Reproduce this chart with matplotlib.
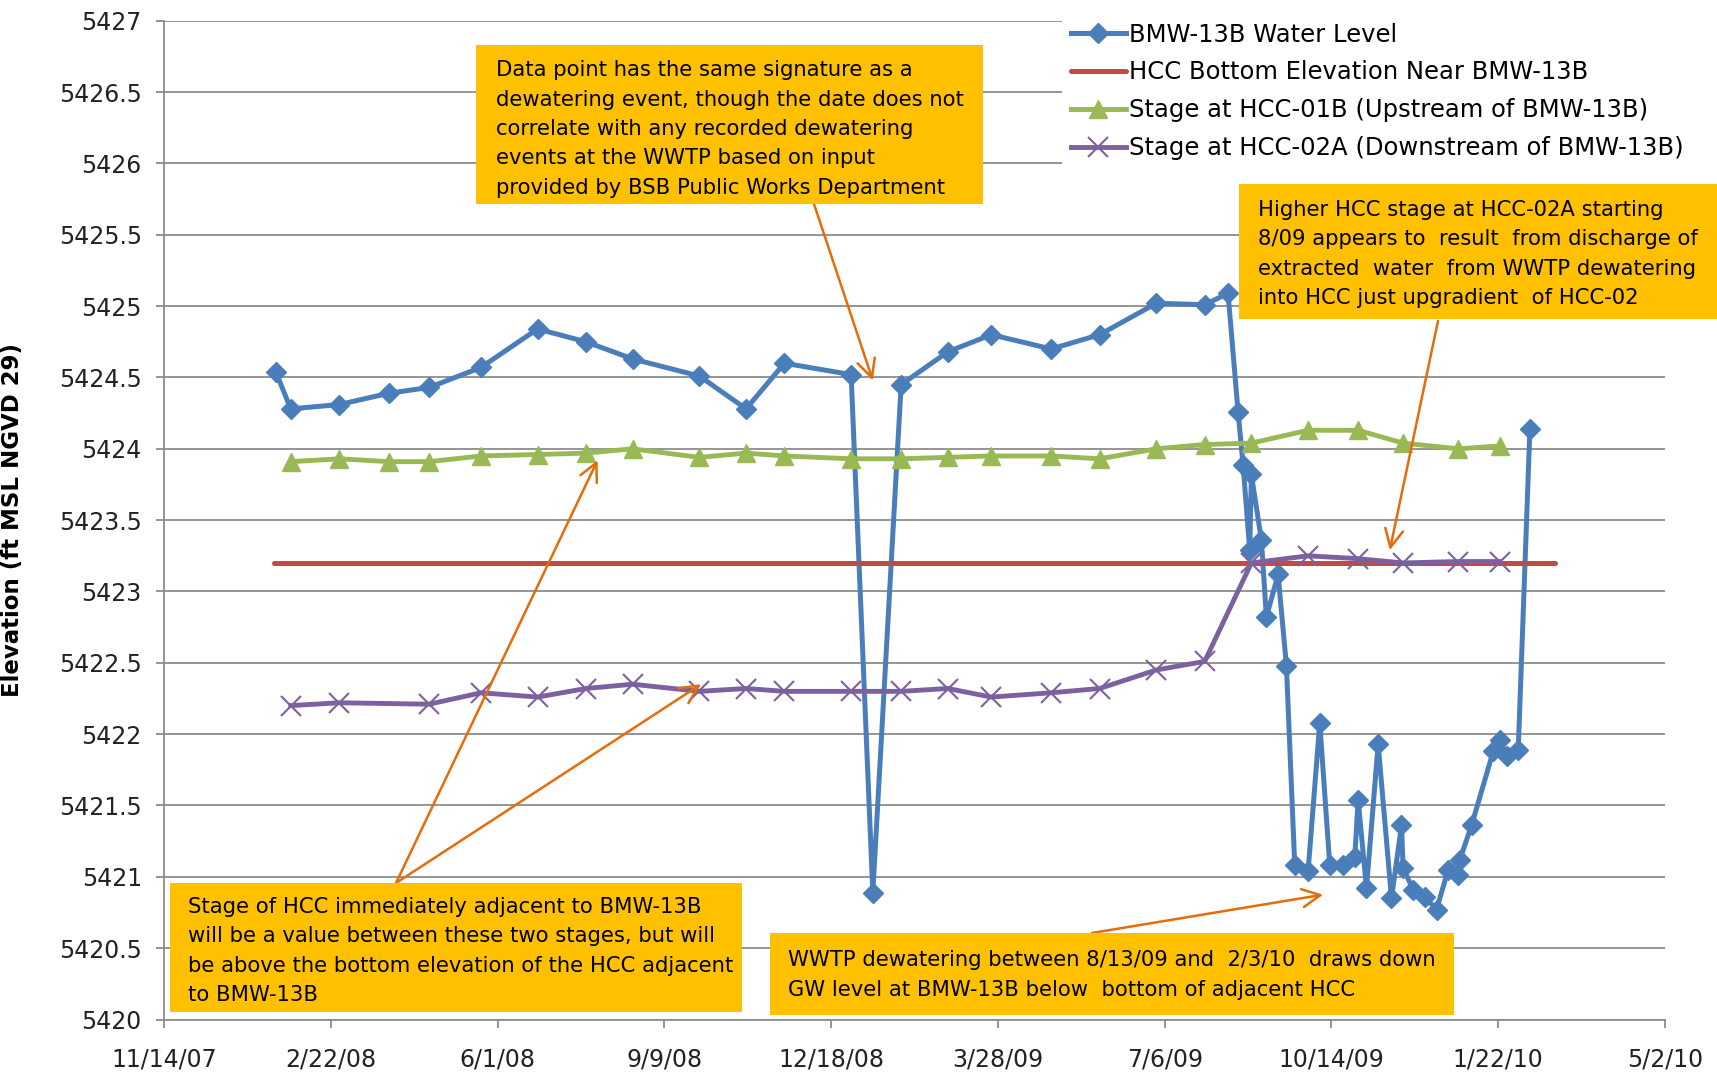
import numpy as np
import pandas as pd
import matplotlib
matplotlib.use('Agg')
import matplotlib.pyplot as plt
import matplotlib.dates as mdates
from matplotlib.patches import Rectangle
from matplotlib.ticker import FuncFormatter

# BMW-13B water level
bmw_dates = ['2008-01-20', '2008-01-29', '2008-02-27', '2008-03-28', '2008-04-21',
             '2008-05-22', '2008-06-25', '2008-07-24', '2008-08-21', '2008-09-30',
             '2008-10-28', '2008-11-20', '2008-12-30', '2009-01-12', '2009-01-29',
             '2009-02-26', '2009-03-24', '2009-04-29', '2009-05-28', '2009-07-01',
             '2009-07-30', '2009-08-13', '2009-08-19', '2009-08-22', '2009-08-26',
             '2009-08-27', '2009-09-02', '2009-09-05', '2009-09-12', '2009-09-17',
             '2009-09-22', '2009-09-30', '2009-10-07', '2009-10-13', '2009-10-21',
             '2009-10-28', '2009-10-30', '2009-11-04', '2009-11-11', '2009-11-19',
             '2009-11-25', '2009-11-26', '2009-12-02', '2009-12-09', '2009-12-16',
             '2009-12-23', '2009-12-29', '2009-12-30', '2010-01-06', '2010-01-19',
             '2010-01-23', '2010-01-27', '2010-02-03', '2010-02-10']
bmw_level = [5424.54, 5424.28, 5424.31, 5424.39, 5424.43,
             5424.57, 5424.84, 5424.75, 5424.63, 5424.51,
             5424.28, 5424.60, 5424.52, 5420.89, 5424.45,
             5424.68, 5424.80, 5424.70, 5424.80, 5425.02,
             5425.01, 5425.09, 5424.26, 5423.89, 5423.29,
             5423.82, 5423.36, 5422.82, 5423.12, 5422.48,
             5421.08, 5421.04, 5422.08, 5421.08, 5421.08,
             5421.14, 5421.54, 5420.92, 5421.93, 5420.85,
             5421.36, 5421.06, 5420.91, 5420.86, 5420.77,
             5421.05, 5421.01, 5421.12, 5421.36, 5421.88,
             5421.96, 5421.85, 5421.89, 5424.14]

# HCC bottom elevation
hcc_dates = ['2008-01-19', '2010-02-25']
hcc_bottom = [5423.2, 5423.2]

# Stage at HCC-01B (upstream)
up_dates = ['2008-01-29', '2008-02-27', '2008-03-28', '2008-04-21', '2008-05-22',
            '2008-06-25', '2008-07-24', '2008-08-21', '2008-09-30', '2008-10-28',
            '2008-11-20', '2008-12-30', '2009-01-29', '2009-02-26', '2009-03-24',
            '2009-04-29', '2009-05-28', '2009-07-01', '2009-07-30', '2009-08-27',
            '2009-09-30', '2009-10-30', '2009-11-26', '2009-12-29', '2010-01-23']
up_stage = [5423.91, 5423.93, 5423.91, 5423.91, 5423.95,
            5423.96, 5423.97, 5424.00, 5423.94, 5423.97,
            5423.95, 5423.93, 5423.93, 5423.94, 5423.95,
            5423.95, 5423.93, 5424.00, 5424.03, 5424.04,
            5424.13, 5424.13, 5424.04, 5424.00, 5424.02]

# Stage at HCC-02A (downstream)
dn_dates = ['2008-01-29', '2008-02-27', '2008-04-21', '2008-05-22', '2008-06-25',
            '2008-07-24', '2008-08-21', '2008-09-30', '2008-10-28', '2008-11-20',
            '2008-12-30', '2009-01-29', '2009-02-26', '2009-03-24', '2009-04-29',
            '2009-05-28', '2009-07-01', '2009-07-30', '2009-08-27', '2009-09-30',
            '2009-10-30', '2009-11-26', '2009-12-29', '2010-01-23']
dn_stage = [5422.20, 5422.22, 5422.21, 5422.29, 5422.26,
            5422.32, 5422.35, 5422.30, 5422.32, 5422.30,
            5422.30, 5422.30, 5422.32, 5422.26, 5422.29,
            5422.32, 5422.45, 5422.51, 5423.20, 5423.25,
            5423.23, 5423.20, 5423.21, 5423.21]

labels = ['BMW-13B Water Level', 'HCC Bottom Elevation Near BMW-13B',
          'Stage at HCC-01B (Upstream of BMW-13B)',
          'Stage at HCC-02A (Downstream of BMW-13B)']

notes = [
    'Data point has the same signature as a\ndewatering event, though the date does not\n'
    'correlate with any recorded dewatering\nevents at the WWTP based on input\n'
    'provided by BSB Public Works Department',
    'Higher HCC stage at HCC-02A starting\n8/09 appears to  result  from discharge of\n'
    'extracted  water  from WWTP dewatering\ninto HCC just upgradient  of HCC-02',
    'Stage of HCC immediately adjacent to BMW-13B\nwill be a value between these two stages, but will\n'
    'be above the bottom elevation of the HCC adjacent\nto BMW-13B',
    'WWTP dewatering between 8/13/09 and  2/3/10  draws down\nGW level at BMW-13B below  bottom of adjacent HCC',
]
# arrow targets (date, elevation)
arrow_targets = [('2009-01-12', 5424.48), ('2009-11-18', 5423.29),
                 ('2008-07-31', 5423.92), ('2008-10-01', 5422.35),
                 ('2009-10-09', 5420.875)]

blue, red, green, purple = '#4A7EBB', '#BE4B48', '#98B954', '#7D60A0'
orange_box, orange_arrow = '#FFC000', '#E46C0A'
grey = '#8C8C8C'

W, H = 1717, 1074
fig = plt.figure(figsize=(W / 100, H / 100), dpi=100)
ax = fig.add_axes([164 / W, 1 - 1019.5 / H, (1665 - 164) / W, (1019.5 - 20.8) / H])

d = lambda s: pd.to_datetime(s)
ax.plot(d(bmw_dates), bmw_level, color=blue, lw=3.6, marker='D', ms=10.5, mec=blue,
        zorder=3, label=labels[0])
ax.plot(d(hcc_dates), hcc_bottom, color=red, lw=3.6, solid_capstyle='round',
        zorder=4, label=labels[1])
ax.plot(d(up_dates), up_stage, color=green, lw=3.5, marker='^', ms=13, mec=green,
        zorder=5, label=labels[2])
ax.plot(d(dn_dates), dn_stage, color=purple, lw=3.5, marker='x', ms=15, mew=1.5,
        zorder=6, label=labels[3])

xticks = pd.date_range('2007-11-14', '2010-05-02', freq='100D')
ax.set_xlim(xticks[0], xticks[-1])
ax.set_xticks(xticks)
ax.xaxis.set_major_formatter(FuncFormatter(
    lambda v, p: '{0.month}/{0.day}/{0:%y}'.format(mdates.num2date(v))))
ax.set_ylim(5420, 5427)
ax.set_yticks(np.arange(5420, 5427.01, 0.5))
ax.yaxis.set_major_formatter(FuncFormatter(lambda v, p: '%g' % v))

ax.grid(axis='y', color=grey, lw=1.3)
ax.set_axisbelow(True)
for s in ['top', 'right']:
    ax.spines[s].set_visible(False)
for s in ['left', 'bottom']:
    ax.spines[s].set_color(grey)
    ax.spines[s].set_linewidth(1.3)
ax.tick_params(axis='both', direction='out', length=6, width=1.3, color=grey,
               labelsize=17, labelcolor='#222222')
ax.tick_params(axis='y', pad=10)
ax.tick_params(axis='x', pad=14)
ax.set_ylabel('Elevation (ft MSL NGVD 29)', fontsize=16.5, fontweight='bold')
ax.yaxis.set_label_coords(-0.093, 0.5)

leg = ax.legend(loc='upper left', bbox_to_anchor=(1062 / W, 1 - 14 / H),
                bbox_transform=fig.transFigure, frameon=True, facecolor='white',
                edgecolor='none', framealpha=1, fancybox=False, fontsize=17.5,
                handlelength=2.3, handletextpad=0.1, labelspacing=0.57,
                borderpad=0.35, borderaxespad=0, numpoints=1)

# annotation boxes: (x0, y0, x1, y1, text x, text centre y) in pixels
boxes = [(476, 45, 983, 204, 496, 129), (1239, 184, 1717, 319, 1258, 254),
         (170, 883, 742, 1012, 188, 951), (770, 933, 1454, 1015, 788, 975)]
for (x0, y0, x1, y1, tx, ty), txt in zip(boxes, notes):
    fig.add_artist(Rectangle((x0 / W, 1 - y1 / H), (x1 - x0) / W, (y1 - y0) / H,
                             transform=fig.transFigure, facecolor=orange_box,
                             edgecolor='none', zorder=8))
    fig.text(tx / W, 1 - ty / H, txt, ha='left', va='center',
             fontsize=15.2, linespacing=1.58, color='black', zorder=9)

starts = [(814, 204), (1438, 321), (396, 883), (396, 883), (1092, 933)]
for (sx, sy), (td, tv) in zip(starts, arrow_targets):
    ax.annotate('', xy=(d(td), tv), xycoords='data',
                xytext=(sx / W, 1 - sy / H), textcoords='figure fraction',
                arrowprops=dict(arrowstyle='->,head_length=0.5,head_width=0.25',
                                color=orange_arrow, lw=1.8, shrinkA=0, shrinkB=0,
                                mutation_scale=26),
                annotation_clip=False, zorder=10)

fig.savefig('out.png', dpi=100)
